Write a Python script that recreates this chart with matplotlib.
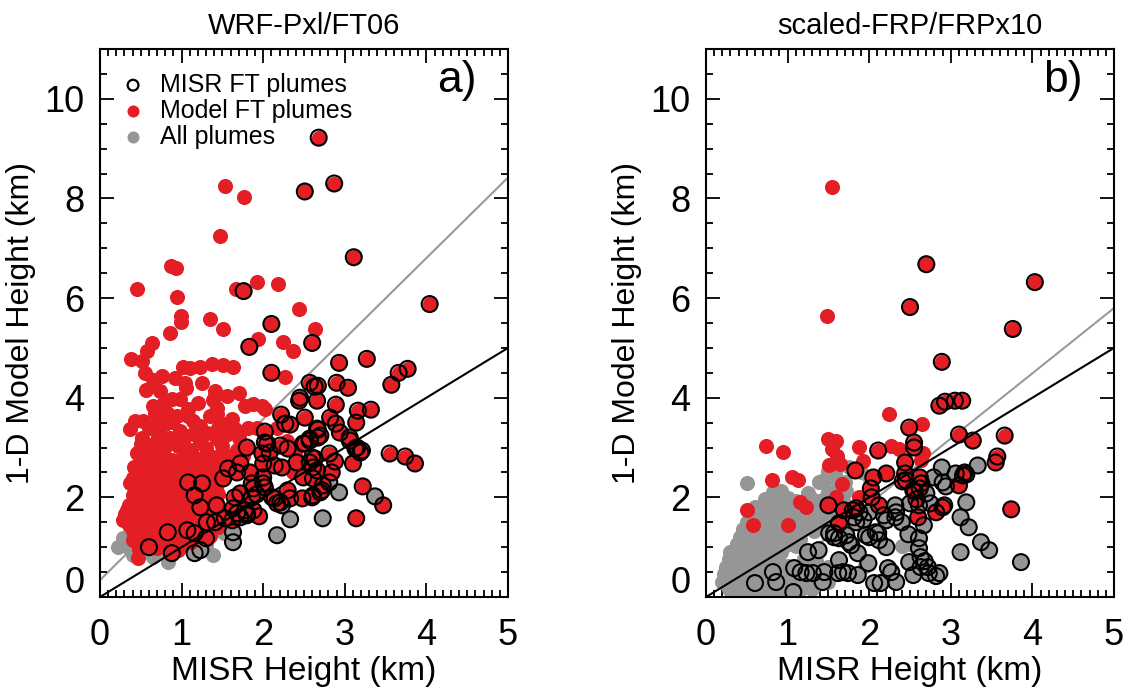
import numpy as np
import matplotlib
matplotlib.use('Agg')
import matplotlib.pyplot as plt
from matplotlib.ticker import MultipleLocator

plt.rcParams['font.family'] = ['Liberation Sans', 'DejaVu Sans']

RED = '#e31e24'
GREY = '#969696'

titles = ['WRF-Pxl/FT06', 'scaled-FRP/FRPx10']
tags = ['a)', 'b)']
xticks = [0, 1, 2, 3, 4, 5]
yticks = [0, 2, 4, 6, 8, 10]
legend_labels = ['MISR FT plumes', 'Model FT plumes', 'All plumes']

# regression line (intercept, slope) per panel, grey line
fit_a = (0.34, 1.616)
fit_b = (-0.75, 1.31)

# ---- panel a ----
a_red_misr = [
    (2.68, 9.22), (2.51, 8.14), (2.87, 8.30), (3.11, 6.82), (1.76, 6.14), (4.04, 5.88), (2.10, 5.48), (2.60, 5.10),
    (1.83, 5.02), (2.10, 4.50), (2.93, 4.70), (3.27, 4.78), (3.77, 4.58), (3.66, 4.50), (3.57, 4.26), (2.57, 4.30),
    (2.63, 4.22), (2.67, 4.24), (2.90, 4.30), (3.04, 4.20), (2.45, 4.00), (2.44, 3.94), (2.66, 3.94), (2.89, 3.86),
    (3.16, 3.74), (3.32, 3.76), (2.22, 3.66), (2.51, 3.60), (2.82, 3.60), (2.89, 3.48), (3.14, 3.50), (2.27, 3.48),
    (2.33, 3.46), (2.67, 3.36), (2.02, 3.32), (2.94, 3.30), (3.06, 3.20), (3.55, 2.88), (3.74, 2.82), (3.86, 2.68),
    (3.22, 2.22), (3.47, 1.84), (3.14, 1.58), (3.10, 2.68), (2.88, 2.72), (2.81, 2.88), (3.19, 2.90), (3.13, 2.98),
    (2.84, 2.50), (2.72, 2.14), (2.61, 2.04), (2.48, 1.98), (2.30, 2.14), (2.33, 1.98), (2.14, 1.98), (2.21, 1.90),
    (2.49, 2.40), (2.61, 2.38), (2.41, 2.70), (2.57, 2.70), (2.61, 2.60), (2.63, 2.78), (2.51, 3.08), (2.57, 3.18),
    (2.67, 3.20), (2.21, 3.04), (2.05, 3.08), (2.00, 2.68), (2.14, 2.64), (2.23, 2.60), (2.00, 2.28), (2.00, 2.40),
    (0.60, 1.00), (0.83, 1.30), (0.88, 0.88), (1.07, 1.34), (1.16, 1.28), (1.30, 1.18), (1.08, 2.30), (1.25, 2.28),
    (1.16, 2.04), (1.23, 1.80), (1.43, 1.84), (1.31, 1.50), (1.41, 1.50), (1.51, 2.38), (1.57, 2.58), (1.72, 2.68),
    (1.68, 2.50), (1.84, 2.50), (1.80, 3.00), (1.65, 2.00), (1.72, 2.08), (1.63, 1.78), (1.78, 1.74), (1.88, 1.74),
    (1.53, 1.58), (1.62, 1.54), (1.72, 1.60), (1.80, 1.64), (1.86, 2.28), (1.88, 2.18), (1.99, 2.88), (2.02, 3.10),
    (2.57, 3.14), (2.49, 3.08), (2.60, 2.80), (2.66, 2.54), (2.73, 2.24), (2.70, 2.10), (2.60, 2.00), (2.11, 2.00),
    (2.17, 1.88), (2.02, 2.20), (1.86, 2.00), (1.80, 1.68), (1.68, 1.68), (2.08, 2.90), (2.30, 2.98), (3.06, 3.14),
    (3.15, 3.00), (3.21, 2.94), (2.66, 3.38), (2.70, 3.24), (1.92, 2.06), (1.95, 1.62),
]
a_grey_misr = [
    (1.16, 0.88), (1.23, 0.94), (1.63, 1.30), (1.63, 1.10), (2.17, 1.24), (2.33, 1.56), (2.73, 1.58), (2.93, 2.10),
    (2.81, 2.30), (3.37, 2.02), (2.23, 1.84),
]
a_grey = [
    (0.34, 1.00), (0.22, 1.00), (0.65, 0.80), (0.83, 0.70), (1.38, 0.84), (0.45, 1.74), (1.08, 2.60), (1.26, 2.60),
    (0.52, 1.28), (0.58, 1.06), (0.72, 0.92), (0.95, 0.95), (1.40, 1.62), (0.28, 1.18), (1.10, 1.05), (0.40, 0.85),
    (1.52, 1.28), (1.48, 2.65), (0.75, 1.15), (1.30, 1.05),
]
a_red = [
    (1.53, 8.24), (1.76, 8.02), (1.47, 7.24), (0.87, 6.64), (0.93, 6.60), (0.45, 6.18), (0.94, 6.02), (1.67, 6.18),
    (1.92, 6.32), (2.18, 6.28), (2.44, 5.78), (0.99, 5.64), (0.99, 5.52), (1.35, 5.58), (1.51, 5.38), (0.86, 5.30),
    (0.64, 5.10), (0.57, 4.94), (0.38, 4.78), (0.51, 4.74), (1.02, 4.62), (1.10, 4.60), (1.23, 4.62), (1.37, 4.68),
    (1.51, 4.66), (1.63, 4.62), (1.94, 5.18), (2.63, 5.38), (2.24, 5.12), (2.37, 4.94), (2.27, 4.42), (0.76, 4.44),
    (0.65, 4.36), (0.56, 4.16), (0.74, 4.14), (1.04, 4.30), (1.05, 4.20), (1.41, 4.14), (1.41, 4.04), (1.56, 4.04),
    (0.88, 3.98), (0.98, 3.98), (0.65, 3.84), (0.77, 3.88), (0.67, 3.70), (0.82, 3.70), (1.08, 3.78), (1.08, 3.64),
    (1.43, 3.80), (1.43, 3.68), (1.78, 3.84), (1.88, 3.88), (1.99, 3.84), (0.43, 3.54), (0.53, 3.54), (0.37, 3.38),
    (0.71, 3.54), (0.80, 3.48), (0.94, 3.64), (1.14, 3.54), (1.35, 3.64), (1.62, 3.58), (1.45, 3.40), (1.81, 3.40),
    (1.65, 3.38), (1.92, 3.40), (0.71, 3.30), (0.98, 3.34), (1.14, 3.28), (1.31, 3.30), (2.17, 3.40), (2.02, 3.78),
    (2.29, 3.14), (2.39, 2.90), (2.33, 2.60), (2.37, 2.50),
    (0.45, 2.90), (0.53, 2.84), (0.49, 2.68), (0.37, 2.28), (0.45, 2.48), (0.33, 1.74), (0.28, 1.54), (0.31, 1.66),
    (0.43, 1.98), (0.40, 1.14), (0.47, 0.78), (0.86, 1.00), (0.43, 1.44), (0.40, 1.32), (0.70, 3.16), (0.86, 3.20),
    (1.02, 3.12), (1.23, 3.14), (1.43, 3.18), (1.55, 3.26),
    (0.62, 3.02), (0.78, 2.98), (0.95, 3.04), (1.12, 2.96), (1.30, 3.00), (1.50, 3.04), (1.68, 2.96),
    (0.58, 2.78), (0.72, 2.82), (0.88, 2.76), (1.05, 2.84), (1.20, 2.78), (1.38, 2.82), (1.60, 2.76), (1.75, 2.84),
    (0.55, 2.58), (0.68, 2.62), (0.82, 2.56), (0.98, 2.64), (1.15, 2.60), (1.32, 2.56), (1.45, 2.62), (1.62, 2.58),
    (0.50, 2.42), (0.62, 2.38), (0.75, 2.44), (0.90, 2.36), (1.02, 2.42), (1.20, 2.40), (1.35, 2.36),
    (0.45, 2.18), (0.58, 2.22), (0.68, 2.16), (0.80, 2.24), (0.92, 2.18), (1.05, 2.20), (1.18, 2.14), (1.30, 2.22),
    (1.42, 2.16), (0.40, 2.04), (0.52, 1.98), (0.62, 2.02), (0.72, 1.96), (0.82, 2.04), (0.95, 1.98), (1.05, 2.02),
    (1.30, 1.96), (1.45, 2.06), (0.48, 1.86), (0.58, 1.82), (0.66, 1.88), (0.75, 1.84), (0.85, 1.86), (0.94, 1.82),
    (1.02, 1.88), (1.12, 1.84), (1.35, 1.86), (0.42, 1.70), (0.55, 1.72), (0.63, 1.68), (0.72, 1.70), (0.80, 1.74),
    (0.90, 1.68), (0.98, 1.72), (1.08, 1.66), (1.20, 1.72), (1.35, 1.68), (1.50, 1.74), (0.38, 1.56), (0.50, 1.54),
    (0.60, 1.58), (0.70, 1.52), (0.78, 1.56), (0.88, 1.54), (0.97, 1.58), (1.05, 1.52), (1.15, 1.56), (1.28, 1.54),
    (1.45, 1.40), (0.45, 1.40), (0.55, 1.38), (0.65, 1.42), (0.74, 1.38), (0.84, 1.40), (0.92, 1.44), (1.00, 1.40),
    (1.12, 1.42), (1.22, 1.38), (0.50, 1.24), (0.60, 1.26), (0.70, 1.22), (0.80, 1.26), (0.95, 1.22), (1.05, 1.20),
    (1.20, 1.24), (1.35, 1.22), (0.55, 1.10), (0.66, 1.08), (0.75, 1.12), (0.90, 1.10), (1.00, 1.06), (1.12, 1.10),
    (0.48, 0.96), (0.70, 0.98), (0.95, 0.94),
    (0.52, 3.20), (0.60, 3.40), (0.88, 3.52), (1.22, 3.44), (1.55, 3.48), (1.70, 3.20), (0.50, 3.08), (1.38, 3.96),
    (1.20, 3.90), (0.55, 4.50), (1.25, 4.30), (1.70, 4.10), (0.92, 4.40),
    (0.66, 2.70), (0.80, 2.68), (0.94, 2.72), (1.10, 2.70), (1.26, 2.68), (1.52, 2.88), (0.42, 2.60), (0.58, 2.50),
    (0.72, 2.52), (0.86, 2.48), (1.08, 2.50), (1.26, 2.46), (1.42, 2.50), (0.40, 2.38), (0.56, 2.32), (0.68, 2.30),
    (0.84, 2.32), (0.98, 2.28), (1.12, 2.32), (1.40, 2.30), (0.50, 2.10), (0.62, 2.12), (0.76, 2.10), (0.88, 2.08),
    (1.00, 2.12), (1.12, 2.06), (1.24, 2.10), (1.38, 2.06), (0.44, 1.92), (0.54, 1.90), (0.70, 1.92), (0.80, 1.94),
    (0.90, 1.92), (1.08, 1.94), (1.20, 1.90), (1.28, 1.84), (0.36, 1.84), (0.48, 1.78), (0.60, 1.76), (0.68, 1.78),
    (0.85, 1.78), (0.94, 1.76), (1.14, 1.76), (1.28, 1.70), (0.35, 1.44), (0.46, 1.62), (0.56, 1.62), (0.66, 1.62),
    (0.75, 1.62), (0.84, 1.62), (0.93, 1.62), (1.02, 1.62), (1.12, 1.62), (1.22, 1.62), (0.50, 1.46), (0.60, 1.48),
    (0.70, 1.46), (0.80, 1.48), (0.88, 1.46), (0.96, 1.48), (1.08, 1.48), (1.18, 1.46), (1.32, 1.42), (0.46, 1.30),
    (0.56, 1.32), (0.65, 1.30), (0.76, 1.32), (0.88, 1.30), (1.00, 1.30), (1.12, 1.28), (0.62, 1.16), (0.72, 1.18),
    (0.84, 1.16), (0.97, 1.14), (1.08, 1.16), (0.52, 1.02), (0.64, 1.02),
]

# ---- panel b ----
b_red_misr = [
    (2.70, 6.68), (4.03, 6.32), (2.50, 5.82), (3.76, 5.38), (2.89, 4.72), (2.86, 3.84), (2.93, 3.92), (3.05, 3.94),
    (3.14, 3.94), (2.49, 3.40), (3.10, 3.26), (3.27, 3.14), (3.66, 3.24), (3.57, 2.82), (3.55, 2.70), (3.74, 1.76),
    (2.55, 3.10), (2.55, 3.00), (2.11, 2.94), (2.44, 2.70), (1.83, 2.54), (2.21, 2.48), (2.05, 2.40), (2.44, 2.48),
    (2.41, 2.32), (2.62, 2.40), (2.64, 2.28), (2.62, 2.18), (3.10, 2.24), (3.17, 2.50), (3.15, 2.44), (2.02, 2.18),
    (2.03, 2.00), (2.12, 1.84), (1.50, 1.84), (1.69, 1.74), (1.80, 1.74), (1.84, 1.78), (1.63, 1.48), (2.60, 1.60),
    (2.82, 1.70), (2.90, 1.80), (2.58, 1.96), (2.56, 2.12),
]
b_red = [
    (1.54, 8.22), (1.48, 5.64), (2.24, 3.68), (2.65, 3.48), (2.27, 3.04), (2.37, 2.98), (2.66, 2.90), (2.63, 2.74),
    (0.74, 3.04), (0.94, 2.92), (0.81, 2.34), (1.05, 2.40), (1.13, 2.34), (0.50, 1.74), (0.58, 1.44), (1.00, 1.44),
    (1.15, 1.90), (1.23, 1.80), (1.50, 3.18), (1.59, 3.14), (1.54, 2.98), (1.60, 2.84), (1.51, 2.64), (1.64, 2.66),
    (1.88, 3.02), (1.92, 2.72), (1.67, 2.26), (1.88, 2.00), (1.59, 2.00),
]
b_grey_misr = [
    (0.60, 0.28), (0.86, 0.30), (0.82, 0.50), (1.07, 0.10), (1.08, 0.58), (1.16, 0.50), (1.23, 0.48), (1.31, 0.48),
    (1.25, 0.90), (1.38, 0.94), (1.43, 0.30), (1.45, 0.50), (1.63, 0.74), (1.62, 0.48), (1.68, 0.50), (1.74, 0.48),
    (1.86, 0.44), (1.51, 1.28), (1.57, 1.20), (1.63, 1.18), (1.72, 1.24), (1.75, 1.10), (1.78, 1.04), (1.86, 0.88),
    (1.99, 0.68), (1.81, 1.60), (1.88, 1.70), (2.00, 1.70), (1.84, 1.50), (1.96, 1.24), (2.08, 1.30), (2.06, 0.28),
    (2.14, 0.28), (2.23, 0.58), (2.27, 0.50), (2.33, 0.30), (2.48, 1.26), (2.49, 0.70), (2.54, 0.44), (2.61, 1.18),
    (2.61, 0.98), (2.63, 0.80), (2.68, 0.72), (2.73, 0.48), (2.82, 0.42), (2.86, 0.48), (2.67, 1.44), (2.32, 1.84),
    (2.33, 1.70), (2.32, 1.60), (2.18, 1.64), (2.21, 1.54), (2.11, 1.28), (2.12, 1.14), (2.21, 1.00), (2.00, 1.20),
    (2.61, 1.84), (2.70, 2.08), (2.45, 2.34), (2.54, 2.14), (2.89, 2.60), (2.79, 2.40), (2.90, 2.30), (2.94, 2.22),
    (3.06, 2.48), (3.19, 2.46), (3.33, 2.64), (3.19, 1.90), (3.12, 1.60), (3.22, 1.40), (3.37, 1.10), (3.47, 0.94),
    (3.12, 0.90), (3.86, 0.70), (2.92, 1.84), (2.75, 1.88), (2.50, 1.88), (2.63, 0.60), (2.72, 0.60), (1.93, 1.55),
    (2.40, 1.50), (1.57, 1.28),
]
b_grey = [
    (1.50, 2.52), (1.58, 2.48), (0.50, 2.28), (1.38, 2.30), (1.45, 2.34), (1.62, 2.28), (0.82, 2.10), (0.92, 2.12),
    (1.25, 2.08), (1.50, 2.10), (1.72, 2.12), (0.72, 1.96), (0.85, 1.94), (1.00, 1.98), (1.10, 1.92), (1.30, 1.96),
    (1.42, 1.94), (1.55, 1.98), (1.68, 1.92), (0.60, 1.80), (0.75, 1.82), (0.90, 1.78), (1.02, 1.80), (1.15, 1.84),
    (1.28, 1.78), (1.45, 1.82), (1.60, 1.78), (0.55, 1.66), (0.68, 1.64), (0.80, 1.68), (0.95, 1.62), (1.05, 1.66),
    (1.20, 1.64), (1.35, 1.68), (1.52, 1.62), (0.50, 1.50), (0.62, 1.52), (0.75, 1.48), (0.88, 1.50), (1.00, 1.54),
    (1.12, 1.48), (1.25, 1.52), (1.40, 1.48), (0.45, 1.36), (0.58, 1.34), (0.70, 1.38), (0.82, 1.32), (0.95, 1.36),
    (1.08, 1.34), (1.20, 1.38), (1.32, 1.32), (0.42, 1.20), (0.55, 1.22), (0.65, 1.18), (0.78, 1.22), (0.90, 1.18),
    (1.02, 1.20), (1.15, 1.16), (0.38, 1.06), (0.50, 1.04), (0.60, 1.08), (0.72, 1.02), (0.85, 1.06), (0.98, 1.04),
    (1.10, 1.02), (0.30, 0.90), (0.42, 0.92), (0.55, 0.88), (0.68, 0.92), (0.80, 0.88), (0.92, 0.90), (0.28, 0.76),
    (0.40, 0.74), (0.50, 0.78), (0.62, 0.72), (0.75, 0.76), (0.88, 0.74), (1.20, 0.76), (1.35, 0.72), (0.25, 0.60),
    (0.35, 0.62), (0.48, 0.58), (0.58, 0.62), (0.70, 0.60), (0.85, 0.58), (1.00, 0.62), (1.50, 0.60), (1.95, 0.62),
    (0.22, 0.46), (0.32, 0.44), (0.42, 0.48), (0.55, 0.44), (0.68, 0.46), (0.80, 0.42), (0.95, 0.46), (1.10, 0.44),
    (1.35, 0.46), (0.20, 0.30), (0.30, 0.32), (0.40, 0.28), (0.50, 0.32), (0.65, 0.30), (0.78, 0.28), (0.92, 0.32),
    (1.05, 0.30), (1.20, 0.28), (1.50, 0.30), (0.28, 0.16), (0.38, 0.14), (0.48, 0.18), (0.60, 0.14), (0.72, 0.16),
    (0.85, 0.14), (1.00, 0.18), (1.15, 0.14), (1.30, 0.16), (0.35, 0.04), (0.45, 0.06), (0.55, 0.04), (0.68, 0.06),
    (0.80, 0.04), (0.95, 0.06), (1.10, 0.04), (1.75, 2.60), (1.90, 2.50), (2.00, 2.40), (1.70, 2.30), (2.40, 1.02),
    (2.50, 1.06),
]

fig = plt.figure(figsize=(11.26, 6.93), dpi=100)
ax_a = fig.add_axes([100 / 1126, 96 / 693, 408 / 1126, 548 / 693])
ax_b = fig.add_axes([706 / 1126, 96 / 693, 408 / 1126, 548 / 693])


def draw(ax, grey, grey_misr, red, red_misr, fit, title, tag):
    xs = np.linspace(0, 5, 50)
    ax.plot(xs, fit[0] + fit[1] * xs, color='#999999', lw=1.5, zorder=1)
    for pts, col in ((grey, GREY), (grey_misr, GREY), (red, RED), (red_misr, RED)):
        p = np.array(pts)
        ax.scatter(p[:, 0], p[:, 1], s=118, color=col, lw=0, zorder=2)
    p = np.array(grey_misr + red_misr)
    ax.scatter(p[:, 0], p[:, 1], s=132, facecolors='none', edgecolors='k', lw=1.5, zorder=3)
    ax.plot(xs, xs, color='k', lw=1.5, zorder=4)

    ax.set_xlim(0, 5)
    ax.set_ylim(0, 11)
    ax.set_xticks(xticks, labels=[str(t) for t in xticks], fontsize=26)
    ax.set_yticks(yticks, labels=[''] + [str(t) for t in yticks[1:]], fontsize=26)
    ax.xaxis.set_minor_locator(MultipleLocator(0.1))
    ax.yaxis.set_minor_locator(MultipleLocator(0.5))
    ax.tick_params(which='both', direction='in', top=True, right=True, width=1.3)
    ax.tick_params(which='major', length=10)
    ax.tick_params(which='minor', length=5)
    ax.tick_params(axis='x', pad=15)
    ax.tick_params(axis='y', pad=11)
    ax.annotate('0', xy=(0, 0), xycoords='axes fraction', xytext=(-11, 10), textcoords='offset points',
                ha='right', va='center', fontsize=26)
    for s in ax.spines.values():
        s.set_linewidth(1.5)
    ax.set_xlabel('MISR Height (km)', fontsize=24, labelpad=2)
    ax.set_ylabel('1-D Model Height (km)', fontsize=23, labelpad=6)
    ax.set_title(title, fontsize=21, pad=11)
    ax.text(0.875, 0.943, tag, transform=ax.transAxes, fontsize=32, ha='center', va='center')


draw(ax_a, a_grey, a_grey_misr, a_red, a_red_misr, fit_a, titles[0], tags[0])
draw(ax_b, b_grey, b_grey_misr, b_red, b_red_misr, fit_b, titles[1], tags[1])

# legend, panel a
ly = [0.934, 0.887, 0.839]
ax_a.scatter([0.081], [ly[0]], s=60, facecolors='none', edgecolors='k', lw=1.6, transform=ax_a.transAxes)
ax_a.scatter([0.081], [ly[1]], s=75, color=RED, lw=0, transform=ax_a.transAxes)
ax_a.scatter([0.081], [ly[2]], s=75, color=GREY, lw=0, transform=ax_a.transAxes)
for y, lab in zip(ly, legend_labels):
    ax_a.text(0.147, y, lab, transform=ax_a.transAxes, fontsize=18, va='center', ha='left')

fig.savefig('out.png', dpi=100)
